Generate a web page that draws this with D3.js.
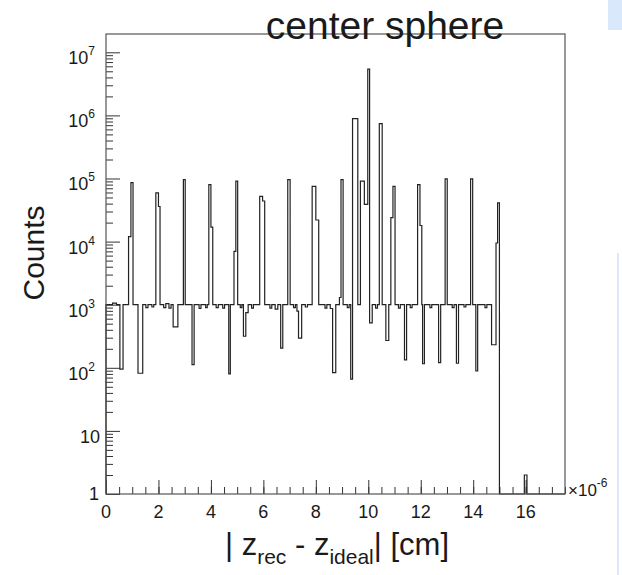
<!DOCTYPE html>
<html>
<head>
<meta charset="utf-8">
<script src="https://cdn.jsdelivr.net/npm/d3@7"></script>
<style>
  body { margin: 0; background: #fff; }
  svg text { font-family: "Liberation Sans", Arial, Helvetica, sans-serif; fill: #1a1a1a; }
</style>
</head>
<body>
<div id="chart"></div>
<script>
// histogram: bin edges (x 1e-6 cm) and counts per bin
var binEdges = [
  0.00, 0.25, 0.40, 0.53, 0.65, 0.86, 0.95, 1.03, 1.22, 1.40,
  1.52, 1.60, 1.75, 1.82, 1.90, 2.00, 2.06, 2.20, 2.28, 2.40,
  2.48, 2.56, 2.74, 2.95, 3.02, 3.28, 3.36, 3.55, 3.62, 3.80,
  3.86, 3.92, 4.00, 4.07, 4.20, 4.28, 4.45, 4.52, 4.68, 4.74,
  4.88, 4.95, 5.02, 5.12, 5.18, 5.24, 5.33, 5.42, 5.55, 5.62,
  5.86, 5.97, 6.05, 6.25, 6.32, 6.45, 6.55, 6.66, 6.74, 6.93,
  7.02, 7.15, 7.22, 7.28, 7.34, 7.46, 7.60, 7.68, 7.86, 8.00,
  8.11, 8.35, 8.42, 8.55, 8.64, 8.76, 8.90, 8.96, 9.04, 9.20,
  9.27, 9.33, 9.40, 9.60, 9.70, 9.85, 9.98, 10.05, 10.15, 10.28,
  10.35, 10.42, 10.53, 10.67, 10.78, 10.86, 10.94, 11.02, 11.15, 11.22,
  11.38, 11.46, 11.60, 11.67, 11.88, 11.97, 12.04, 12.07, 12.14, 12.35,
  12.42, 12.68, 12.76, 12.93, 13.01, 13.20, 13.27, 13.36, 13.44, 13.65,
  13.72, 13.90, 13.98, 14.10, 14.17, 14.45, 14.52, 14.70, 14.87, 14.93,
  15.00, 15.95, 16.05, 17.50
];
var binCounts = [
  1000, 1060, 1000, 95, 1000, 12000, 86000, 1000, 82, 1000,
  900, 1000, 920, 1000, 59000, 36000, 1000, 900, 1040, 880,
  1000, 446, 1000, 96000, 1000, 112, 1000, 870, 1000, 900,
  1000, 80000, 17000, 1000, 900, 1000, 880, 1000, 80, 1000,
  7000, 91000, 1000, 900, 1000, 316, 750, 1000, 880, 1000,
  52000, 44000, 1000, 880, 1000, 850, 1000, 205, 1000, 96000,
  1000, 900, 1000, 790, 296, 1000, 920, 1000, 75000, 22000,
  1000, 880, 1000, 870, 84, 1000, 1300, 96000, 1000, 900,
  1000, 66, 890000, 1000, 91000, 39000, 5400000, 516, 1000, 880,
  1000, 740000, 1000, 271, 1000, 24000, 75000, 1000, 880, 1000,
  134, 1000, 900, 1000, 80000, 18000, 1000, 116, 1000, 900,
  1000, 121, 1000, 99000, 1000, 900, 1000, 118, 1000, 920,
  1000, 99000, 1000, 89, 1000, 900, 1000, 232, 9500, 41000,
  0, 2, 0
];

var xMajor = [0, 2, 4, 6, 8, 10, 12, 14, 16];
var xMinor = d3.range(0, 17.51, 0.5);
var yMajor = [1, 10, 1e2, 1e3, 1e4, 1e5, 1e6, 1e7];
var yExp = [0, 1, 2, 3, 4, 5, 6, 7];

var title = "center sphere";

var width = 622, height = 575;
var svg = d3.select("#chart").append("svg").attr("width", width).attr("height", height);

// scales: frame is 106..565 x 34..494
var x = d3.scaleLinear().domain([0, 17.5]).range([106, 565]);
var y = d3.scaleLog().domain([1, Math.pow(10, 7.29)]).range([494, 34]);

// little screen artefacts at the right edge
svg.append("rect").attr("x", 608).attr("y", 0).attr("width", 14).attr("height", 30).attr("fill", "#d9e8fb");
svg.append("rect").attr("x", 617).attr("y", 253).attr("width", 2).attr("height", 322).attr("fill", "#dde9f8");

// minor y ticks (2..9 per decade)
var yMinor = [];
for (var k = 0; k < 7; k++) {
  for (var m = 2; m <= 9; m++) yMinor.push(m * Math.pow(10, k));
}

var axColor = "#333";

var gx = svg.append("g").attr("transform", "translate(0,494)");
gx.call(d3.axisBottom(x).tickValues(xMinor).tickSize(-7).tickFormat(""));
gx.append("g").call(d3.axisBottom(x).tickValues(xMajor).tickSize(-14).tickFormat(""));
gx.selectAll(".domain").remove();
gx.selectAll("line").attr("stroke", axColor);

var gy = svg.append("g").attr("transform", "translate(106,0)");
gy.call(d3.axisLeft(y).tickValues(yMinor).tickSize(-7).tickFormat(""));
gy.append("g").call(d3.axisLeft(y).tickValues(yMajor).tickSize(-14).tickFormat(""));
gy.selectAll(".domain").remove();
gy.selectAll("line").attr("stroke", axColor);

// histogram as step line; empty bins sit on the frame bottom
var pts = [[binEdges[0], 0]];
binCounts.forEach(function(c, i) {
  pts.push([binEdges[i], c]);
  pts.push([binEdges[i + 1], c]);
});
pts.push([binEdges[binEdges.length - 1], 0]);

var line = d3.line()
  .x(function(d) { return x(d[0]); })
  .y(function(d) { return y(Math.max(d[1], 1)); });

svg.append("path")
  .datum(pts)
  .attr("d", line)
  .attr("fill", "none")
  .attr("stroke", "#222")
  .attr("stroke-width", 1.2);

// frame
svg.append("rect")
  .attr("x", x(0)).attr("y", y.range()[1])
  .attr("width", x(17.5) - x(0)).attr("height", y.range()[0] - y.range()[1])
  .attr("fill", "none").attr("stroke", "#555").attr("stroke-width", 1.2);

// x tick labels
svg.append("g").selectAll("text")
  .data(xMajor).enter().append("text")
  .attr("x", function(d) { return x(d); })
  .attr("y", 518)
  .attr("text-anchor", "middle")
  .attr("font-size", 18)
  .text(function(d) { return d; });

// y tick labels
var ylab = svg.append("g").selectAll("text")
  .data(yMajor).enter().append("text")
  .attr("text-anchor", "end")
  .attr("font-size", 18);
ylab.each(function(d, i) {
  var t = d3.select(this);
  var e = yExp[i];
  if (e === 0) {
    t.attr("x", 99).attr("y", 500).text("1");
  } else if (e === 1) {
    t.attr("x", 100).attr("y", y(d) + 12).text("10");
  } else {
    t.attr("x", 95).attr("y", y(d) + 12);
    t.append("tspan").text("10");
    t.append("tspan").attr("font-size", 12).attr("dy", -9).text(e);
  }
});

// x10^-6 exponent label
var ex = svg.append("text").attr("x", 568).attr("y", 496).attr("font-size", 17);
ex.append("tspan").text("\u00d710");
ex.append("tspan").attr("font-size", 12).attr("dy", -9).text("-6");

// title
svg.append("text")
  .attr("x", 385).attr("y", 39)
  .attr("text-anchor", "middle")
  .attr("font-size", 39)
  .text(title);

// axis titles
svg.append("text")
  .attr("transform", "translate(44,253) rotate(-90)")
  .attr("text-anchor", "middle")
  .attr("font-size", 30)
  .text("Counts");

var xt = svg.append("text")
  .attr("x", 337).attr("y", 555)
  .attr("text-anchor", "middle")
  .attr("font-size", 31);
xt.append("tspan").text("| z");
xt.append("tspan").attr("font-size", 21).attr("dy", 9).text("rec");
xt.append("tspan").attr("dy", -9).text(" - z");
xt.append("tspan").attr("font-size", 21).attr("dy", 9).text("ideal");
xt.append("tspan").attr("dy", -9).text("| [cm]");
</script>
</body>
</html>
